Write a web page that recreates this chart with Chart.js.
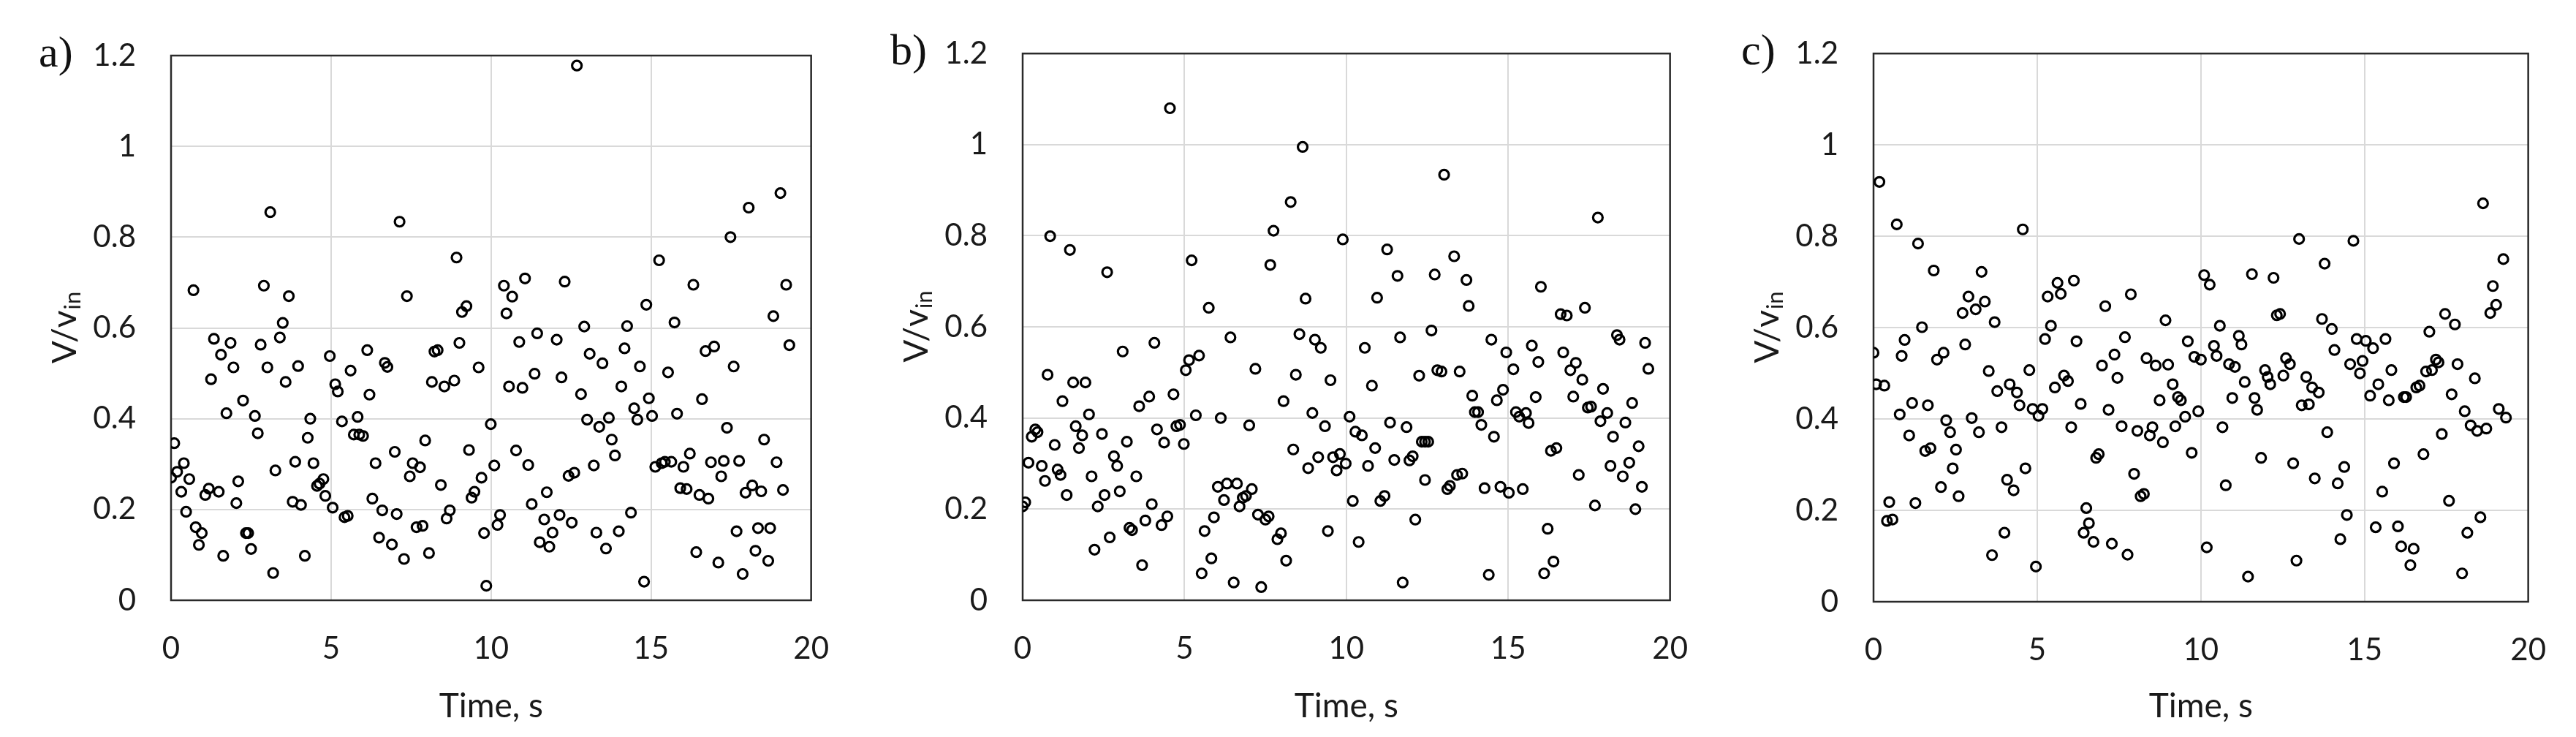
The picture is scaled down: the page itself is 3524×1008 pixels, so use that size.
<!DOCTYPE html>
<html>
<head>
<meta charset="utf-8">
<script src="https://cdn.jsdelivr.net/npm/chart.js@4.4.1/dist/chart.umd.min.js"></script>
<style>
  html, body { margin: 0; padding: 0; background: #fff; }
  #wrap { position: relative; width: 3524px; height: 1008px; overflow: hidden; }
  canvas { position: absolute; top: 0; }
</style>
</head>
<body>
<div id="wrap">
  <canvas id="panelA" width="1175" height="1008" style="left:0px"></canvas>
  <canvas id="panelB" width="1175" height="1008" style="left:1175px"></canvas>
  <canvas id="panelC" width="1174" height="1008" style="left:2350px"></canvas>
</div>
<script>
// values: time (s) and V/v_in
const timeA = [0, 0.1, 0.19, 0.32, 0.4, 0.47, 0.57, 0.7, 0.77, 0.87, 0.96, 1.07, 1.18, 1.25, 1.34, 1.49, 1.56, 1.63, 1.73, 1.86,
  1.95, 2.04, 2.1, 2.25, 2.34, 2.41, 2.5, 2.62, 2.71, 2.8, 2.9, 3.01, 3.1, 3.19, 3.26, 3.4, 3.49, 3.58, 3.68, 3.8,
  3.88, 3.97, 4.06, 4.18, 4.27, 4.35, 4.45, 4.56, 4.64, 4.76, 4.82, 4.96, 5.05, 5.13, 5.21, 5.34, 5.42, 5.52, 5.61, 5.71,
  5.83, 5.88, 6.0, 6.13, 6.2, 6.29, 6.39, 6.5, 6.6, 6.68, 6.76, 6.9, 6.99, 7.05, 7.14, 7.28, 7.37, 7.46, 7.55, 7.67,
  7.78, 7.86, 7.94, 8.06, 8.15, 8.23, 8.33, 8.43, 8.54, 8.61, 8.71, 8.85, 8.92, 9.01, 9.09, 9.23, 9.31, 9.39, 9.48, 9.61,
  9.7, 9.78, 9.85, 9.99, 10.1, 10.2, 10.28, 10.4, 10.48, 10.56, 10.66, 10.78, 10.88, 10.98, 11.06, 11.16, 11.27, 11.36, 11.44, 11.52,
  11.66, 11.74, 11.82, 11.92, 12.05, 12.14, 12.2, 12.3, 12.42, 12.52, 12.6, 12.68, 12.81, 12.91, 13.0, 13.08, 13.21, 13.29, 13.38, 13.48,
  13.59, 13.68, 13.77, 13.87, 13.99, 14.07, 14.17, 14.25, 14.37, 14.47, 14.57, 14.65, 14.78, 14.85, 14.93, 15.03, 15.13, 15.25, 15.33, 15.43,
  15.53, 15.63, 15.73, 15.81, 15.91, 16.01, 16.11, 16.21, 16.32, 16.41, 16.51, 16.59, 16.7, 16.79, 16.87, 16.97, 17.1, 17.19, 17.27, 17.37,
  17.48, 17.58, 17.67, 17.75, 17.86, 17.95, 18.05, 18.16, 18.26, 18.34, 18.44, 18.53, 18.66, 18.72, 18.82, 18.92, 19.04, 19.12, 19.22, 19.32]
const ratioA = [0.27, 0.346, 0.283, 0.239, 0.302, 0.195, 0.267, 0.683, 0.161, 0.122, 0.148, 0.232, 0.246, 0.487, 0.576, 0.239, 0.541, 0.098, 0.412, 0.567,
  0.513, 0.214, 0.262, 0.44, 0.148, 0.148, 0.113, 0.406, 0.368, 0.563, 0.693, 0.513, 0.855, 0.06, 0.286, 0.579, 0.611, 0.481, 0.67, 0.217,
  0.305, 0.516, 0.21, 0.098, 0.358, 0.4, 0.302, 0.252, 0.257, 0.267, 0.23, 0.538, 0.204, 0.476, 0.46, 0.394, 0.183, 0.186, 0.506, 0.365,
  0.404, 0.365, 0.362, 0.551, 0.453, 0.224, 0.302, 0.138, 0.198, 0.523, 0.514, 0.123, 0.327, 0.19, 0.834, 0.091, 0.67, 0.273, 0.302, 0.161,
  0.293, 0.164, 0.352, 0.104, 0.481, 0.548, 0.551, 0.254, 0.471, 0.18, 0.198, 0.484, 0.755, 0.567, 0.635, 0.648, 0.331, 0.226, 0.239, 0.513,
  0.27, 0.148, 0.032, 0.388, 0.297, 0.166, 0.188, 0.693, 0.632, 0.471, 0.669, 0.33, 0.569, 0.468, 0.709, 0.298, 0.212, 0.499, 0.588, 0.128,
  0.178, 0.238, 0.118, 0.149, 0.574, 0.188, 0.491, 0.702, 0.274, 0.171, 0.281, 1.178, 0.454, 0.603, 0.398, 0.543, 0.297, 0.149, 0.382, 0.522,
  0.114, 0.402, 0.354, 0.319, 0.152, 0.471, 0.555, 0.604, 0.193, 0.423, 0.398, 0.515, 0.041, 0.651, 0.445, 0.406, 0.294, 0.749, 0.302, 0.305,
  0.502, 0.305, 0.612, 0.411, 0.247, 0.294, 0.245, 0.323, 0.695, 0.106, 0.232, 0.443, 0.549, 0.224, 0.304, 0.559, 0.083, 0.273, 0.307, 0.38,
  0.8, 0.515, 0.152, 0.307, 0.058, 0.237, 0.865, 0.253, 0.109, 0.159, 0.24, 0.354, 0.087, 0.159, 0.626, 0.304, 0.897, 0.243, 0.695, 0.562]

const timeB = [0, 0.08, 0.18, 0.28, 0.39, 0.46, 0.59, 0.69, 0.77, 0.85, 0.99, 1.08, 1.17, 1.23, 1.36, 1.46, 1.56, 1.64, 1.74, 1.84,
  1.94, 2.05, 2.13, 2.22, 2.32, 2.45, 2.53, 2.61, 2.69, 2.82, 2.92, 3.0, 3.09, 3.22, 3.3, 3.38, 3.51, 3.6, 3.69, 3.79,
  3.91, 3.99, 4.07, 4.15, 4.29, 4.37, 4.47, 4.55, 4.66, 4.75, 4.86, 4.98, 5.04, 5.14, 5.22, 5.35, 5.45, 5.53, 5.62, 5.75,
  5.83, 5.91, 6.03, 6.12, 6.22, 6.31, 6.42, 6.52, 6.62, 6.7, 6.8, 6.9, 7.0, 7.08, 7.19, 7.27, 7.37, 7.5, 7.6, 7.65,
  7.75, 7.87, 7.98, 8.06, 8.14, 8.28, 8.36, 8.44, 8.55, 8.65, 8.74, 8.82, 8.95, 9.03, 9.13, 9.21, 9.34, 9.43, 9.51, 9.59,
  9.7, 9.8, 9.89, 9.98, 10.1, 10.2, 10.28, 10.38, 10.48, 10.57, 10.67, 10.79, 10.89, 10.95, 11.05, 11.18, 11.26, 11.35, 11.48, 11.58,
  11.66, 11.74, 11.86, 11.95, 12.05, 12.13, 12.25, 12.33, 12.43, 12.43, 12.53, 12.63, 12.73, 12.81, 12.94, 13.02, 13.12, 13.2, 13.33, 13.42,
  13.5, 13.58, 13.71, 13.78, 13.89, 13.97, 14.07, 14.17, 14.27, 14.4, 14.48, 14.56, 14.65, 14.76, 14.84, 14.94, 15.02, 15.16, 15.24, 15.34,
  15.45, 15.55, 15.63, 15.73, 15.85, 15.93, 16.01, 16.11, 16.22, 16.32, 16.4, 16.49, 16.62, 16.7, 16.81, 16.92, 17.01, 17.09, 17.18, 17.29,
  17.37, 17.46, 17.56, 17.68, 17.77, 17.85, 17.93, 18.06, 18.16, 18.24, 18.36, 18.44, 18.54, 18.62, 18.74, 18.83, 18.93, 19.03, 19.13, 19.23, 19.33]
const ratioB = [0.206, 0.215, 0.302, 0.359, 0.375, 0.369, 0.295, 0.262, 0.495, 0.799, 0.341, 0.287, 0.275, 0.437, 0.231, 0.769, 0.478, 0.382, 0.334, 0.362,
  0.478, 0.408, 0.272, 0.111, 0.206, 0.365, 0.231, 0.72, 0.138, 0.316, 0.295, 0.239, 0.546, 0.348, 0.159, 0.154, 0.272, 0.426, 0.077, 0.175,
  0.447, 0.211, 0.565, 0.375, 0.165, 0.346, 0.184, 1.08, 0.452, 0.382, 0.385, 0.343, 0.505, 0.527, 0.746, 0.406, 0.537, 0.059, 0.152, 0.642,
  0.092, 0.182, 0.249, 0.4, 0.22, 0.256, 0.577, 0.039, 0.256, 0.206, 0.225, 0.229, 0.384, 0.244, 0.508, 0.188, 0.029, 0.177, 0.184, 0.736,
  0.811, 0.134, 0.147, 0.437, 0.087, 0.874, 0.331, 0.495, 0.584, 0.995, 0.662, 0.29, 0.411, 0.572, 0.314, 0.554, 0.382, 0.152, 0.483, 0.314,
  0.285, 0.321, 0.792, 0.3, 0.403, 0.218, 0.37, 0.128, 0.362, 0.554, 0.295, 0.471, 0.334, 0.664, 0.218, 0.229, 0.77, 0.39, 0.308, 0.712,
  0.577, 0.039, 0.38, 0.307, 0.316, 0.177, 0.493, 0.348, 0.348, 0.264, 0.348, 0.592, 0.715, 0.505, 0.502, 0.934, 0.244, 0.251, 0.755, 0.275,
  0.502, 0.278, 0.703, 0.646, 0.449, 0.413, 0.413, 0.385, 0.246, 0.056, 0.572, 0.359, 0.439, 0.249, 0.462, 0.544, 0.236, 0.507, 0.413, 0.403,
  0.244, 0.411, 0.389, 0.559, 0.446, 0.523, 0.688, 0.059, 0.157, 0.328, 0.085, 0.334, 0.628, 0.544, 0.625, 0.505, 0.447, 0.521, 0.275, 0.484,
  0.642, 0.423, 0.425, 0.208, 0.84, 0.393, 0.464, 0.411, 0.295, 0.359, 0.582, 0.572, 0.272, 0.39, 0.302, 0.433, 0.2, 0.338, 0.249, 0.565, 0.508]

const timeC = [0, 0.08, 0.18, 0.33, 0.41, 0.48, 0.58, 0.71, 0.8, 0.86, 0.95, 1.09, 1.18, 1.28, 1.36, 1.48, 1.58, 1.66, 1.74, 1.84,
  1.94, 2.06, 2.14, 2.22, 2.34, 2.42, 2.52, 2.6, 2.72, 2.8, 2.9, 3.0, 3.12, 3.22, 3.3, 3.4, 3.52, 3.62, 3.7, 3.78,
  3.91, 4.0, 4.08, 4.16, 4.28, 4.38, 4.46, 4.56, 4.64, 4.76, 4.86, 4.96, 5.04, 5.16, 5.24, 5.32, 5.42, 5.54, 5.62, 5.72,
  5.82, 5.94, 6.04, 6.12, 6.2, 6.33, 6.42, 6.5, 6.58, 6.72, 6.8, 6.88, 6.98, 7.08, 7.18, 7.28, 7.36, 7.45, 7.58, 7.68,
  7.76, 7.86, 7.96, 8.06, 8.16, 8.26, 8.34, 8.44, 8.52, 8.62, 8.74, 8.84, 8.92, 9.0, 9.14, 9.22, 9.3, 9.39, 9.52, 9.6,
  9.72, 9.8, 9.92, 10.0, 10.1, 10.18, 10.27, 10.4, 10.48, 10.58, 10.66, 10.76, 10.86, 10.96, 11.04, 11.16, 11.24, 11.34, 11.44, 11.56,
  11.64, 11.72, 11.84, 11.96, 12.04, 12.12, 12.22, 12.32, 12.42, 12.52, 12.6, 12.72, 12.82, 12.92, 13.0, 13.08, 13.22, 13.3, 13.4, 13.48,
  13.6, 13.7, 13.78, 13.86, 14.0, 14.08, 14.18, 14.26, 14.38, 14.46, 14.56, 14.66, 14.76, 14.86, 14.94, 15.04, 15.17, 15.26, 15.34, 15.42,
  15.54, 15.64, 15.74, 15.82, 15.9, 16.02, 16.12, 16.2, 16.27, 16.4, 16.5, 16.58, 16.68, 16.8, 16.88, 16.98, 17.06, 17.18, 17.26, 17.36,
  17.46, 17.58, 17.66, 17.76, 17.84, 17.98, 18.06, 18.14, 18.24, 18.37, 18.44, 18.54, 18.62, 18.72, 18.84, 18.92, 19.02, 19.1, 19.24, 19.32]
const ratioC = [0.545, 0.476, 0.919, 0.473, 0.177, 0.218, 0.18, 0.826, 0.41, 0.538, 0.573, 0.364, 0.435, 0.216, 0.784, 0.601, 0.33, 0.43, 0.336, 0.725,
  0.53, 0.251, 0.545, 0.397, 0.371, 0.292, 0.333, 0.231, 0.632, 0.563, 0.668, 0.402, 0.64, 0.371, 0.722, 0.657, 0.505, 0.102, 0.612, 0.461,
  0.382, 0.151, 0.267, 0.476, 0.244, 0.458, 0.43, 0.815, 0.292, 0.507, 0.422, 0.077, 0.407, 0.422, 0.575, 0.668, 0.604, 0.469, 0.698, 0.674,
  0.495, 0.483, 0.382, 0.703, 0.57, 0.433, 0.151, 0.205, 0.172, 0.131, 0.315, 0.323, 0.517, 0.647, 0.42, 0.127, 0.541, 0.49, 0.384, 0.579,
  0.103, 0.673, 0.28, 0.374, 0.231, 0.236, 0.533, 0.364, 0.382, 0.517, 0.441, 0.349, 0.616, 0.519, 0.476, 0.384, 0.448, 0.441, 0.405, 0.57,
  0.326, 0.536, 0.417, 0.53, 0.715, 0.119, 0.694, 0.56, 0.538, 0.604, 0.382, 0.255, 0.52, 0.446, 0.514, 0.582, 0.563, 0.481, 0.055, 0.717,
  0.446, 0.42, 0.315, 0.507, 0.492, 0.476, 0.709, 0.627, 0.63, 0.495, 0.533, 0.52, 0.303, 0.09, 0.794, 0.43, 0.492, 0.432, 0.469, 0.27,
  0.458, 0.619, 0.74, 0.371, 0.597, 0.551, 0.259, 0.137, 0.295, 0.19, 0.52, 0.79, 0.575, 0.5, 0.527, 0.571, 0.451, 0.555, 0.163, 0.476,
  0.241, 0.575, 0.441, 0.507, 0.303, 0.165, 0.121, 0.448, 0.448, 0.08, 0.116, 0.469, 0.473, 0.323, 0.504, 0.591, 0.507, 0.53, 0.524, 0.367,
  0.63, 0.221, 0.454, 0.607, 0.52, 0.062, 0.417, 0.151, 0.386, 0.489, 0.374, 0.185, 0.872, 0.379, 0.632, 0.691, 0.65, 0.422, 0.75, 0.403]

const xTickValues = [0, 5, 10, 15, 20]
const yTickValues = [0, 0.2, 0.4, 0.6, 0.8, 1, 1.2]
const panelLetters = ['a)', 'b)', 'c)']
const xTitle = 'Time, s'

// plot frames in page pixels, and where each canvas starts
const frames = [
  { canvasLeft: 0, canvasWidth: 1175, left: 234, right: 1144, top: 76, bottom: 821 },
  { canvasLeft: 1175, canvasWidth: 1175, left: 1399, right: 2316, top: 69, bottom: 821 },
  { canvasLeft: 2350, canvasWidth: 1174, left: 2563, right: 3470, top: 69, bottom: 823 }
]

const tickFont = { family: 'Lato', size: 42 }
const textColor = '#1a1a1a'

const panelText = {
  id: 'panelText',
  beforeDatasetsDraw(chart, args, opts) {
    const { ctx, chartArea } = chart
    ctx.save()
    ctx.strokeStyle = '#2a2a2a'
    ctx.lineWidth = 2.5
    ctx.strokeRect(chartArea.left, chartArea.top, chartArea.right - chartArea.left, chartArea.bottom - chartArea.top)
    ctx.restore()
  },
  afterDraw(chart, args, opts) {
    const { ctx, chartArea } = chart
    ctx.save()
    ctx.fillStyle = '#111'
    ctx.font = '60px "Liberation Serif"'
    ctx.textBaseline = 'alphabetic'
    ctx.textAlign = 'left'
    ctx.fillText(opts.letter, chartArea.left - 181, chartArea.top + 15)

    // y axis title V/v with subscript "in"
    ctx.translate(chartArea.left - 145, (chartArea.top + chartArea.bottom) / 2)
    ctx.rotate(-Math.PI / 2)
    ctx.fillStyle = textColor
    ctx.textBaseline = 'middle'
    const mainFont = '46px Lato'
    const subFont = '31px Lato'
    ctx.font = mainFont
    const wMain = ctx.measureText('V/v').width
    ctx.font = subFont
    const wSub = ctx.measureText('in').width
    const x0 = -(wMain + wSub) / 2
    ctx.font = mainFont
    ctx.fillText('V/v', x0, 0)
    ctx.font = subFont
    ctx.fillText('in', x0 + wMain + 1, 11)
    ctx.restore()
  }
}

const makePanel = (id, times, ratios, frame, letter) => {
  const points = times.map((t, i) => ({ x: t, y: ratios[i] }))
  const canvasRight = frame.canvasLeft + frame.canvasWidth
  new Chart(document.getElementById(id), {
    type: 'scatter',
    data: {
      datasets: [{
        data: points,
        pointStyle: 'circle',
        pointRadius: 6.5,
        pointHoverRadius: 6.5,
        pointBorderWidth: 3.2,
        pointBorderColor: '#000',
        pointBackgroundColor: 'rgba(0,0,0,0)'
      }]
    },
    options: {
      responsive: false,
      animation: false,
      devicePixelRatio: 1,
      layout: {
        padding: { left: 0, top: frame.top, right: canvasRight - frame.right, bottom: 0 }
      },
      plugins: {
        legend: { display: false },
        tooltip: { enabled: false },
        panelText: { letter: letter }
      },
      scales: {
        x: {
          type: 'linear',
          min: 0,
          max: 20,
          afterBuildTicks: (scale) => { scale.ticks = xTickValues.map(v => ({ value: v })) },
          afterFit: (scale) => { scale.height = 1008 - frame.bottom },
          grid: { color: '#d9d9d9', lineWidth: 2, drawTicks: false },
          border: { display: false },
          ticks: { padding: 41, font: tickFont, color: textColor, maxRotation: 0, autoSkip: false },
          title: { display: true, text: xTitle, font: { family: 'Lato', size: 46 }, color: textColor, padding: { top: 0, bottom: 14 } }
        },
        y: {
          type: 'linear',
          min: 0,
          max: 1.2,
          afterBuildTicks: (scale) => { scale.ticks = yTickValues.map(v => ({ value: v })) },
          afterFit: (scale) => { scale.width = frame.left - frame.canvasLeft },
          grid: { color: '#d9d9d9', lineWidth: 2, drawTicks: false },
          border: { display: false },
          ticks: {
            padding: 48, font: tickFont, color: textColor, autoSkip: false,
            callback: (value) => String(Math.round(value * 10) / 10)
          }
        }
      }
    },
    plugins: [panelText]
  })
}

makePanel('panelA', timeA, ratioA, frames[0], panelLetters[0])
makePanel('panelB', timeB, ratioB, frames[1], panelLetters[1])
makePanel('panelC', timeC, ratioC, frames[2], panelLetters[2])
</script>
</body>
</html>
